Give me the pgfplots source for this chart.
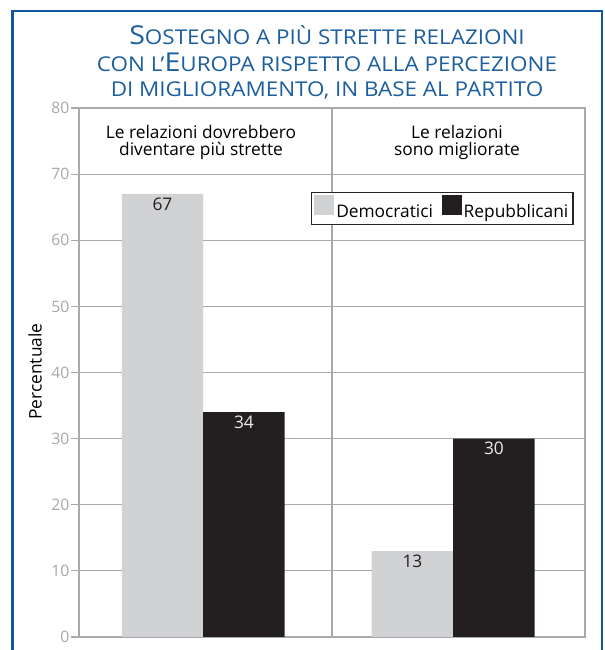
\documentclass[border=0pt]{standalone}
\usepackage{pgfplots}
\pgfplotsset{compat=1.18}
\usepackage{fontspec}
\setmainfont{Open Sans}
\definecolor{frameblue}{HTML}{11559C}
\definecolor{titleblue}{HTML}{1C5E9E}
\definecolor{demgray}{HTML}{D1D2D4}
\definecolor{repblack}{HTML}{231F20}
\definecolor{axgray}{HTML}{A7A9AC}
\definecolor{tickgray}{HTML}{A8A8A8}
\newcommand{\tf}{\fontsize{15.3}{16}\selectfont}
\newcommand{\bigc}[1]{{\fontsize{19.5}{20}\selectfont #1}}
\newcommand{\lf}{\fontsize{13}{13}\selectfont}
\begin{document}
\begin{tikzpicture}[x=0.75pt,y=0.75pt]
\path[use as bounding box] (0,0) rectangle (604,650);
\draw[frameblue, line width=2pt] (12.8,-5) -- (12.8,639) -- (602,639) -- (602,-5);
\node[anchor=base, text=titleblue, font=\tf, xscale=1.1] at (327,605) {\bigc{S}OSTEGNO A PIÙ STRETTE RELAZIONI};
\node[anchor=base, text=titleblue, font=\tf, xscale=1.1] at (327,578) {CON L’\bigc{E}UROPA RISPETTO ALLA PERCEZIONE};
\node[anchor=base, text=titleblue, font=\tf, xscale=1.1] at (327,553) {DI MIGLIORAMENTO, IN BASE AL PARTITO};
\begin{axis}[
  at={(59.25pt,9.75pt)}, anchor=south west,
  scale only axis, width=379.5pt, height=396.75pt,
  xmin=0, xmax=2, ymin=0, ymax=80,
  ytick={0,10,...,80}, xtick=\empty,
  extra x ticks={1}, extra x tick labels={},
  extra x tick style={grid=major, major tick length=0pt},
  ymajorgrids,
  grid style={axgray, line width=0.8pt},
  axis line style={axgray, line width=1.2pt},
  tick style={axgray, line width=0.9pt},
  major tick length=6pt, tick align=outside, ytick pos=left,
  /pgf/number format/assume math mode=true,
  yticklabel style={text=tickgray, font=\fontsize{11.8}{12}\selectfont, inner sep=1pt},
  legend columns=2,
  legend style={at={(0.4585,0.841)}, anchor=north west, draw=black!85, line width=0.8pt,
    fill=white, font=\lf, inner sep=2pt, nodes={inner sep=1.5pt},
    /tikz/every even column/.append style={column sep=5pt}},
]
\addlegendimage{legend image code/.code={\fill[demgray] (0pt,-2pt) rectangle (14.25pt,12.25pt);}}
\addlegendentry{Democratici}
\addlegendimage{legend image code/.code={\fill[repblack] (0pt,-2pt) rectangle (14.25pt,12.25pt);}}
\addlegendentry{Repubblicani}
\addplot[ybar, forget plot, bar width=0.322, bar shift=0, fill=demgray, draw=none,
  nodes near coords, every node near coord/.append style={anchor=north, text=repblack, font=\lf, inner sep=2.5pt}]
  coordinates {(0.33,67) (1.318,13)};
\addplot[ybar, forget plot, bar width=0.322, bar shift=0, fill=repblack, draw=none,
  nodes near coords, every node near coord/.append style={anchor=north, text=white!92!black, font=\lf, inner sep=2.5pt}]
  coordinates {(0.652,34) (1.64,30)};
\end{axis}
\node[anchor=base, font=\lf] at (201,511) {Le relazioni dovrebbero};
\node[anchor=base, font=\lf] at (201,494) {diventare più strette};
\node[anchor=base, font=\lf] at (457,511) {Le relazioni};
\node[anchor=base, font=\lf] at (457,494) {sono migliorate};
\node[rotate=90, font=\lf] at (35,278.5) {Percentuale};
\end{tikzpicture}
\end{document}
